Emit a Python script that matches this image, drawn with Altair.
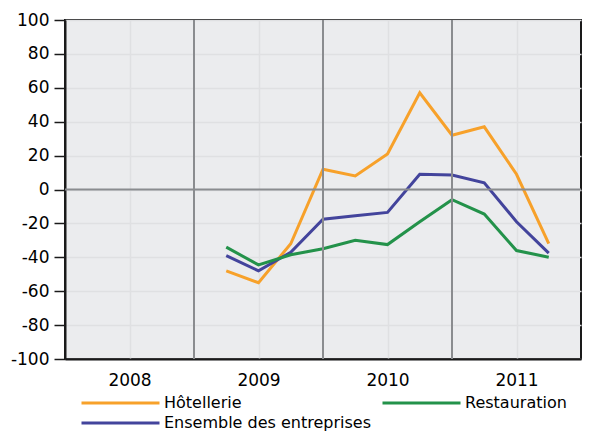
import altair as alt
import pandas as pd

# Quarters (year, quarter) of the observations
years = [2009, 2009, 2009, 2010, 2010, 2010, 2010, 2011, 2011, 2011, 2011]
quarters = [2, 3, 4, 1, 2, 3, 4, 1, 2, 3, 4]

hotellerie = [-48, -55, -32, 12, 8, 21, 57, 32, 37, 9, -32]
restauration = [-34, -44.5, -38.5, -35, -30, -32.5, -19, -6, -14.5, -36, -40]
ensemble = [-39, -48, -37, -17.5, -15.5, -13.5, 9, 8.5, 4, -19, -37.5]

# legend is laid out column by column: this order gives
# row 1: Hôtellerie, Restauration / row 2: Ensemble des entreprises
series_names = ["Hôtellerie", "Ensemble des entreprises", "Restauration"]
series_colors = ["#f7a12a", "#43449c", "#23924a"]
series_values = [hotellerie, ensemble, restauration]

year_labels = ["2008", "2009", "2010", "2011"]
year_centers = [2, 6, 10, 14]
year_bounds = [4, 8, 12]
y_ticks = list(range(-100, 101, 20))

rows = []
for name, vals in zip(series_names, series_values):
    for yr, q, v in zip(years, quarters, vals):
        rows.append({"serie": name, "t": (yr - 2008) * 4 + q - 1, "v": v})
df = pd.DataFrame(rows)

label_expr = (
    "{" + ", ".join(f"{c}: '{l}'" for c, l in zip(year_centers, year_labels)) + "}[datum.value]"
)

x_scale = alt.Scale(domain=[0, 16], nice=False, zero=False)
y_scale = alt.Scale(domain=[-100, 100], nice=False)

x_axis = alt.Axis(
    values=year_centers,
    labelExpr=label_expr,
    title=None,
    ticks=False,
    tickSize=0,
    labelPadding=13,
    labelFontSize=17,
    labelColor="#000000",
    labelFont="DejaVu Sans",
    labelOverlap=False,
    grid=True,
    gridColor="#dfe0e2",
    gridWidth=1.5,
    domainColor="#1a1a1a",
    domainWidth=2,
)
y_axis = alt.Axis(
    values=y_ticks,
    labelExpr="'' + datum.value",
    title=None,
    tickSize=11,
    tickColor="#1a1a1a",
    tickWidth=1.5,
    labelPadding=5,
    labelFontSize=17,
    labelColor="#000000",
    labelFont="DejaVu Sans",
    labelOverlap=False,
    grid=True,
    gridColor="#dfe0e2",
    gridWidth=1.5,
    domainColor="#1a1a1a",
    domainWidth=2,
)

bounds_df = pd.DataFrame({"t": year_bounds})
vrules = alt.Chart(bounds_df).mark_rule(color="#8a8c8f", strokeWidth=2).encode(
    x=alt.X("t:Q", scale=x_scale, axis=x_axis)
)
zero_df = pd.DataFrame({"v": [0]})
hrule = alt.Chart(zero_df).mark_rule(color="#8a8c8f", strokeWidth=2).encode(
    y=alt.Y("v:Q", scale=y_scale, axis=y_axis)
)

lines = alt.Chart(df).mark_line(strokeWidth=3).encode(
    x=alt.X("t:Q", scale=x_scale, axis=x_axis),
    y=alt.Y("v:Q", scale=y_scale, axis=y_axis),
    color=alt.Color(
        "serie:N",
        scale=alt.Scale(domain=series_names, range=series_colors),
        sort=series_names,
        legend=alt.Legend(
            title=None,
            orient="none",
            legendX=15,
            legendY=375,
            columns=2,
            symbolType="stroke",
            symbolSize=6084,
            symbolStrokeWidth=3,
            clipHeight=16,
            labelFontSize=16,
            labelFont="DejaVu Sans",
            labelColor="#000000",
            labelOffset=3,
            labelLimit=400,
            rowPadding=4,
            columnPadding=10,
            padding=0,
        ),
    ),
    order=alt.Order("t:Q"),
)

chart = (
    alt.layer(lines, vrules, hrule)
    .properties(
        width=516,
        height=339,
        autosize=alt.AutoSizeParams(type="none"),
        padding={"left": 57, "top": 12, "right": 1, "bottom": 73},
        background="#ffffff",
    )
    .configure_view(fill="#ebecee", stroke="#1a1a1a", strokeWidth=2)
)

chart.save("out.html", embed_options={"renderer": "svg", "actions": False})
